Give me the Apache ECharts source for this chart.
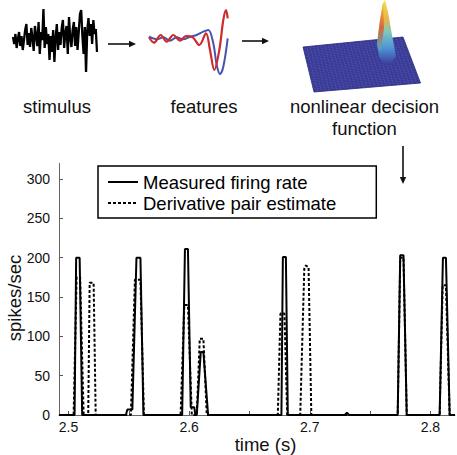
<!DOCTYPE html>
<html>
<head>
<meta charset="utf-8">
<script src="https://cdn.jsdelivr.net/npm/echarts@6/dist/echarts.min.js"></script>
<style>html,body{margin:0;padding:0;background:#fff;}#c{width:457px;height:455px;}</style>
</head>
<body>
<div id="c"></div>
<script>
// ---------- data ----------
const yTicks = [0, 50, 100, 150, 200, 250, 300];
const xTicks = [2.5, 2.55, 2.6, 2.65, 2.7, 2.75, 2.8];
const xLabels = [2.5, 2.6, 2.7, 2.8];
const seriesNames = ['Measured firing rate', 'Derivative pair estimate'];

const measuredTime = [2.49208,
  2.5050, 2.5063, 2.5092, 2.5113,
  2.5475, 2.5488, 2.5529, 2.5563, 2.5596, 2.5621,
  2.5942, 2.5965, 2.5990, 2.6013, 2.6042, 2.6052,
  2.6063, 2.6096, 2.6118, 2.6157,
  2.6765, 2.6777, 2.6802, 2.6818,
  2.7290, 2.7308, 2.7326,
  2.7729, 2.7750, 2.7777, 2.7804,
  2.8077, 2.8104, 2.8129, 2.8160,
  2.82042];
const measuredRate = [0,
  0, 200, 200, 0,
  0, 7, 7, 200, 200, 0,
  0, 211, 211, 10, 10, 0,
  0, 80, 80, 0,
  0, 201, 201, 0,
  0, 3, 0,
  0, 203, 203, 0,
  0, 200, 200, 0,
  0];

const estimateTime = [2.49208,
  2.5042, 2.5067, 2.5096, 2.5125,
  2.5163, 2.5175, 2.5208, 2.5225,
  2.5517, 2.5550, 2.5596, 2.5625,
  2.5929, 2.5960, 2.5990, 2.6022,
  2.6063, 2.6088, 2.6118, 2.6146,
  2.6735, 2.6757, 2.6790, 2.6813,
  2.6921, 2.6955, 2.6968, 2.6990, 2.7013,
  2.7729, 2.7750, 2.7777, 2.7804,
  2.8077, 2.8102, 2.8129, 2.8160,
  2.82042];
const estimateRate = [0,
  0, 175, 175, 0,
  0, 168, 168, 0,
  0, 172, 172, 0,
  0, 140, 140, 0,
  0, 97, 97, 0,
  0, 129, 129, 0,
  0, 188, 190, 188, 0,
  0, 200, 200, 0,
  0, 165, 165, 0,
  0];

// illustration: stimulus trace (relative amplitude)
const stimulus = [5, -2, 8, -6, 3, 10, -4, 6, -8, 2,
  12, 18, -3, 9, -5, 14, 4, -9, 16, 6,
  -4, 20, -12, 10, 2, 33, -6, 15, -2, 8,
  -18, 6, -10, 12, -20, 4, 18, -8, 10, -3,
  14, 22, -6, 9, 16, -12, 25, 4, -5, 12,
  20, -4, 15, -8, 10, 28, 32, 6, -12, 15,
  -30, 12, 24, 6, 18, -2, 22, 8, 13, -10];

// illustration: two features (lag, amplitude)
const featureLag = [0, 5, 11.7, 17.7, 24.3, 31, 37, 43.7, 50.3, 57, 61, 65.3, 70.3, 74.3, 77, 78.7];
const featureRed = [2.7, -2.7, 5, -1.7, 5, -0.7, 4, 2.7, -5, 6.7, -10, -30, -10, 20, 30, 21.7];
const featureLagB = [0, 7.7, 14.3, 21, 27.7, 34.3, 41, 47.7, 54.3, 59.3, 64.3, 67.7, 71, 74.3, 78.7];
const featureBlue = [3.3, 0.7, 2.7, -0.7, 2.7, 0.7, 3.3, 5, 8.3, 10, -3.3, -25, -34, -26.7, 1.7];

// ---------- build ----------
const FONT = '"Liberation Sans", Arial, Helvetica, sans-serif';
const pairs = (xs, ys) => xs.map((x, i) => [x, ys[i]]);

const chart = echarts.init(document.getElementById('c'), null, {renderer: 'svg'});

// surface mesh lines
const A = [303, 47], B = [403, 37], C = [420.5, 83], D = [314, 92];
const lerp = (p, q, t) => [p[0] + (q[0] - p[0]) * t, p[1] + (q[1] - p[1]) * t];
const mesh = [];
const N = 28;
for (let i = 1; i < N; i++) {
  const t = i / N;
  const p1 = lerp(A, B, t), p2 = lerp(D, C, t);
  mesh.push({type: 'line', shape: {x1: p1[0], y1: p1[1], x2: p2[0], y2: p2[1]}, style: {stroke: 'rgba(110,110,210,0.45)', lineWidth: 0.6}, z: 5});
  const p3 = lerp(A, D, t), p4 = lerp(B, C, t);
  mesh.push({type: 'line', shape: {x1: p3[0], y1: p3[1], x2: p4[0], y2: p4[1]}, style: {stroke: 'rgba(110,110,210,0.45)', lineWidth: 0.6}, z: 5});
}

function txt(text, x, y, size, rot) {
  return {type: 'text', x: x, y: y, rotation: rot || 0, z: 20,
    style: {text: text, fontSize: size, fontFamily: FONT, fill: '#111',
      textAlign: 'center', textVerticalAlign: 'middle', align: 'center', verticalAlign: 'middle'}};
}
function arrow(x1, y1, x2, y2) {
  const ang = Math.atan2(y2 - y1, x2 - x1);
  const hl = 7, hw = 3.2;
  const bx = x2 - hl * Math.cos(ang), by = y2 - hl * Math.sin(ang);
  const nx = -Math.sin(ang) * hw, ny = Math.cos(ang) * hw;
  return [
    {type: 'line', shape: {x1: x1, y1: y1, x2: bx, y2: by}, style: {stroke: '#111', lineWidth: 1.6}, z: 20},
    {type: 'polygon', shape: {points: [[x2, y2], [bx + nx, by + ny], [bx - nx, by - ny]]}, style: {fill: '#111'}, z: 20}
  ];
}

const graphics = [
  {type: 'polygon', shape: {points: [A, B, C, D]}, style: {fill: '#33348c', stroke: '#2a2a78', lineWidth: 0.8}, z: 4},
  ...mesh,
  {type: 'polygon', z: 8, shape: {points: [[377, 44], [380, 20], [383, 3], [385, 0], [388, 12], [392, 35], [396, 56], [392, 62], [385, 64], [379, 57]]},
    style: {fill: new echarts.graphic.LinearGradient(0, 0, 0, 1, [
      {offset: 0, color: '#f4e04a'}, {offset: 0.3, color: '#e9b54a'}, {offset: 0.5, color: '#7cc9c0'},
      {offset: 0.75, color: '#4f93d6'}, {offset: 1, color: '#3b3fa0'}])}},
  {type: 'polygon', z: 9, shape: {points: [[377, 44], [380, 20], [383, 3], [384, 28], [381, 52]]},
    style: {fill: new echarts.graphic.LinearGradient(0, 0, 0, 1, [
      {offset: 0, color: '#f0c030'}, {offset: 0.5, color: '#d9663a'}, {offset: 1, color: '#3fb0c8'}])}},
  ...arrow(108, 44, 136, 44),
  ...arrow(242, 41, 269, 41),
  ...arrow(403, 146, 403, 184),
  txt('stimulus', 57, 106, 18.5),
  txt('features', 204, 106, 18.5),
  txt('nonlinear decision', 364.5, 106, 18.5),
  txt('function', 364.5, 128.5, 18.5),
  txt('spikes/sec', 14, 298, 18.5, Math.PI / 2),
  txt('time (s)', 265.5, 444, 18.5)
];

const option = {
  animation: false,
  backgroundColor: '#fff',
  textStyle: {fontFamily: FONT},
  grid: [
    {left: 59, top: 163.3, width: 396, height: 251.7},
    {left: 13, top: 9, width: 84, height: 66},
    {left: 149, top: 5, width: 80, height: 70}
  ],
  xAxis: [
    {type: 'value', gridIndex: 0, min: 2.49208, max: 2.82042,
      axisLine: {show: true, lineStyle: {color: '#666', width: 1}},
      axisTick: {show: true, inside: true, length: 4, customValues: xTicks, lineStyle: {color: '#555', width: 1}},
      axisLabel: {show: true, customValues: xLabels, margin: 5, fontSize: 14, color: '#111', fontFamily: FONT,
        formatter: v => Number(v).toFixed(1)},
      splitLine: {show: false}},
    {type: 'value', gridIndex: 1, min: 0, max: stimulus.length - 1, show: false},
    {type: 'value', gridIndex: 2, min: 0, max: 80, show: false}
  ],
  yAxis: [
    {type: 'value', gridIndex: 0, min: 0, max: 320,
      axisLine: {show: true, onZero: false, lineStyle: {color: '#666', width: 1}},
      axisTick: {show: true, inside: true, length: 4, customValues: yTicks, lineStyle: {color: '#555', width: 1}},
      axisLabel: {show: true, customValues: yTicks, margin: 9, fontSize: 14, color: '#111', fontFamily: FONT},
      splitLine: {show: false}},
    {type: 'value', gridIndex: 1, min: -33, max: 33, show: false},
    {type: 'value', gridIndex: 2, min: -35, max: 35, show: false}
  ],
  legend: {
    left: 98, top: 166, orient: 'vertical',
    data: seriesNames,
    itemWidth: 30, itemHeight: 14, itemGap: 1,
    padding: [6, 40, 5, 9],
    borderColor: '#000', borderWidth: 1.5,
    itemStyle: {opacity: 0},
    textStyle: {fontSize: 18.5, color: '#000', fontFamily: FONT, lineHeight: 20},
    selectedMode: false
  },
  series: [
    {name: seriesNames[0], type: 'line', xAxisIndex: 0, yAxisIndex: 0,
      data: pairs(measuredTime, measuredRate), symbol: 'none', z: 3,
      lineStyle: {color: '#000', width: 2}, itemStyle: {color: '#000'}},
    {name: seriesNames[1], type: 'line', xAxisIndex: 0, yAxisIndex: 0,
      data: pairs(estimateTime, estimateRate), symbol: 'none', z: 4,
      lineStyle: {color: '#000', width: 2, type: [3, 2]}, itemStyle: {color: '#000'}},
    {name: 'stimulus', type: 'line', xAxisIndex: 1, yAxisIndex: 1, clip: false,
      data: stimulus.map((v, i) => [i, v]), symbol: 'none',
      lineStyle: {color: '#000', width: 2.3}},
    {name: 'featA', type: 'line', xAxisIndex: 2, yAxisIndex: 2, clip: false, smooth: 0.35,
      data: pairs(featureLagB, featureBlue), symbol: 'none',
      lineStyle: {color: '#4654b0', width: 2}},
    {name: 'featB', type: 'line', xAxisIndex: 2, yAxisIndex: 2, clip: false, smooth: 0.35,
      data: pairs(featureLag, featureRed), symbol: 'none',
      lineStyle: {color: '#cc2b2b', width: 2.2}}
  ],
  graphic: {elements: graphics}
};
chart.setOption(option);
</script>
</body>
</html>
